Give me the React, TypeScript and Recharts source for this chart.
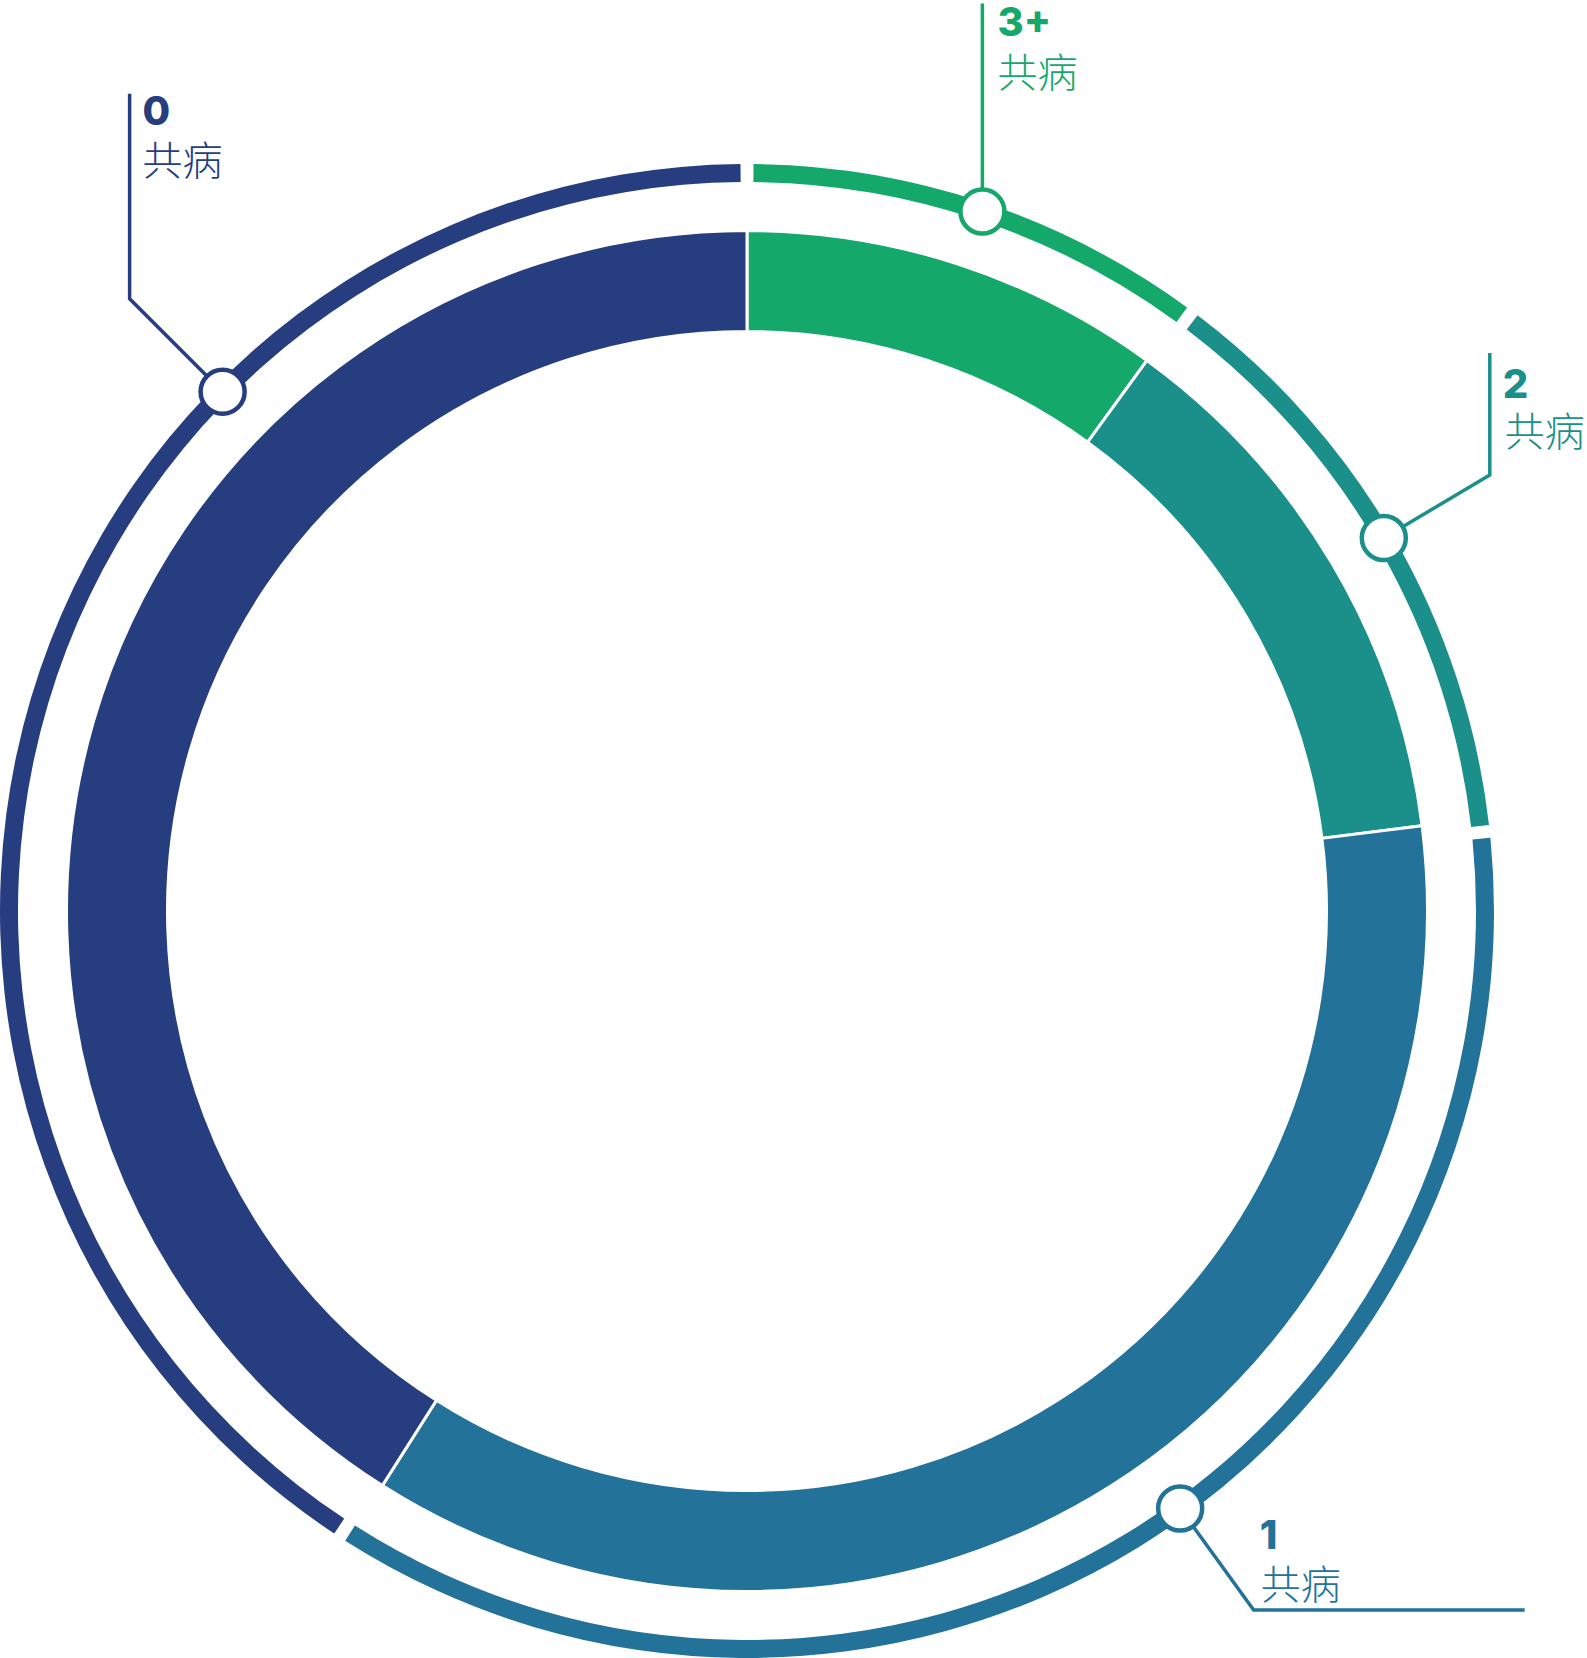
import React from 'react';
import { PieChart, Pie, Cell } from 'recharts';

// Share of patients by number of comorbidities (%), clockwise from 12 o'clock
const categories = ['3+', '2', '1', '0'];
const shares = [10, 13, 36, 41];
const labelWord = '共病';

const COLORS: Record<string, string> = {
  '3+': '#14a86b',
  '2': '#1b8f8a',
  '1': '#22729a',
  '0': '#263d7f',
};

// callout layout: angle shift from the slice middle, and leader / text offsets from the marker
const CALLOUTS: Record<string, { shift: number; path: [number, number][]; num: [number, number]; word: [number, number] }> = {
  '3+': { shift: -0.3, path: [[0, 0], [0, -208]], num: [15, -176], word: [15, -125] },
  '2': { shift: 0.6, path: [[0, 0], [106, -63], [106, -185]], num: [119, -140], word: [121, -92] },
  '1': { shift: 4.4, path: [[0, 0], [73.5, 101.5], [344.5, 101.5]], num: [79.5, 40], word: [80.5, 90] },
  '0': { shift: -28.2, path: [[0, 0], [-93, -93], [-93, -298]], num: [-80, -267], word: [-80, -217] },
};

const data = categories.map((name, i) => ({ name, value: shares[i] }));

const RAD = Math.PI / 180;

const renderCallout = (props: any) => {
  const { cx, cy, midAngle, innerRadius, outerRadius, name } = props;
  const cfg = CALLOUTS[name];
  if (!cfg) return null;
  const color = COLORS[name];
  const r = (innerRadius + outerRadius) / 2;
  const a = (midAngle + cfg.shift) * RAD;
  const px = cx + r * Math.cos(a);
  const py = cy - r * Math.sin(a);
  const d = cfg.path.map(([dx, dy], i) => `${i === 0 ? 'M' : 'L'}${px + dx},${py + dy}`).join(' ');
  return (
    <g key={`callout-${name}`}>
      <path d={d} fill="none" stroke={color} strokeWidth={3.5} />
      <circle cx={px} cy={py} r={22} fill="#fff" stroke={color} strokeWidth={4.5} />
      <text
        x={px + cfg.num[0]}
        y={py + cfg.num[1]}
        fill={color}
        fontFamily="Inter, 'Open Sans', sans-serif"
        fontWeight={800}
        fontSize={40}
      >
        {name}
      </text>
      <text
        x={px + cfg.word[0]}
        y={py + cfg.word[1]}
        fill={color}
        fontFamily="'Noto Sans CJK SC', 'Noto Sans', sans-serif"
        fontWeight={300}
        fontSize={40}
      >
        {labelWord}
      </text>
    </g>
  );
};

export default function App() {
  return (
    <div style={{ position: 'absolute', left: 0, top: 0, width: 1587, height: 1658, background: '#fff' }}>
      <PieChart width={1587} height={1658} margin={{ top: 0, right: 0, bottom: 0, left: 0 }}>
        {/* main donut */}
        <Pie
          data={data}
          dataKey="value"
          nameKey="name"
          cx={747}
          cy={911}
          innerRadius={579.5}
          outerRadius={680.5}
          startAngle={90}
          endAngle={-270}
          stroke="#fff"
          strokeWidth={3}
          isAnimationActive={false}
        >
          {data.map((entry) => (
            <Cell key={`inner-${entry.name}`} fill={COLORS[entry.name]} />
          ))}
        </Pie>
        {/* thin outer ring with callouts */}
        <Pie
          data={data}
          dataKey="value"
          nameKey="name"
          cx={747}
          cy={911}
          innerRadius={729}
          outerRadius={747}
          startAngle={89.5}
          endAngle={-270.5}
          paddingAngle={1}
          stroke="none"
          label={renderCallout}
          labelLine={false}
          isAnimationActive={false}
        >
          {data.map((entry) => (
            <Cell key={`outer-${entry.name}`} fill={COLORS[entry.name]} />
          ))}
        </Pie>
      </PieChart>
    </div>
  );
}
